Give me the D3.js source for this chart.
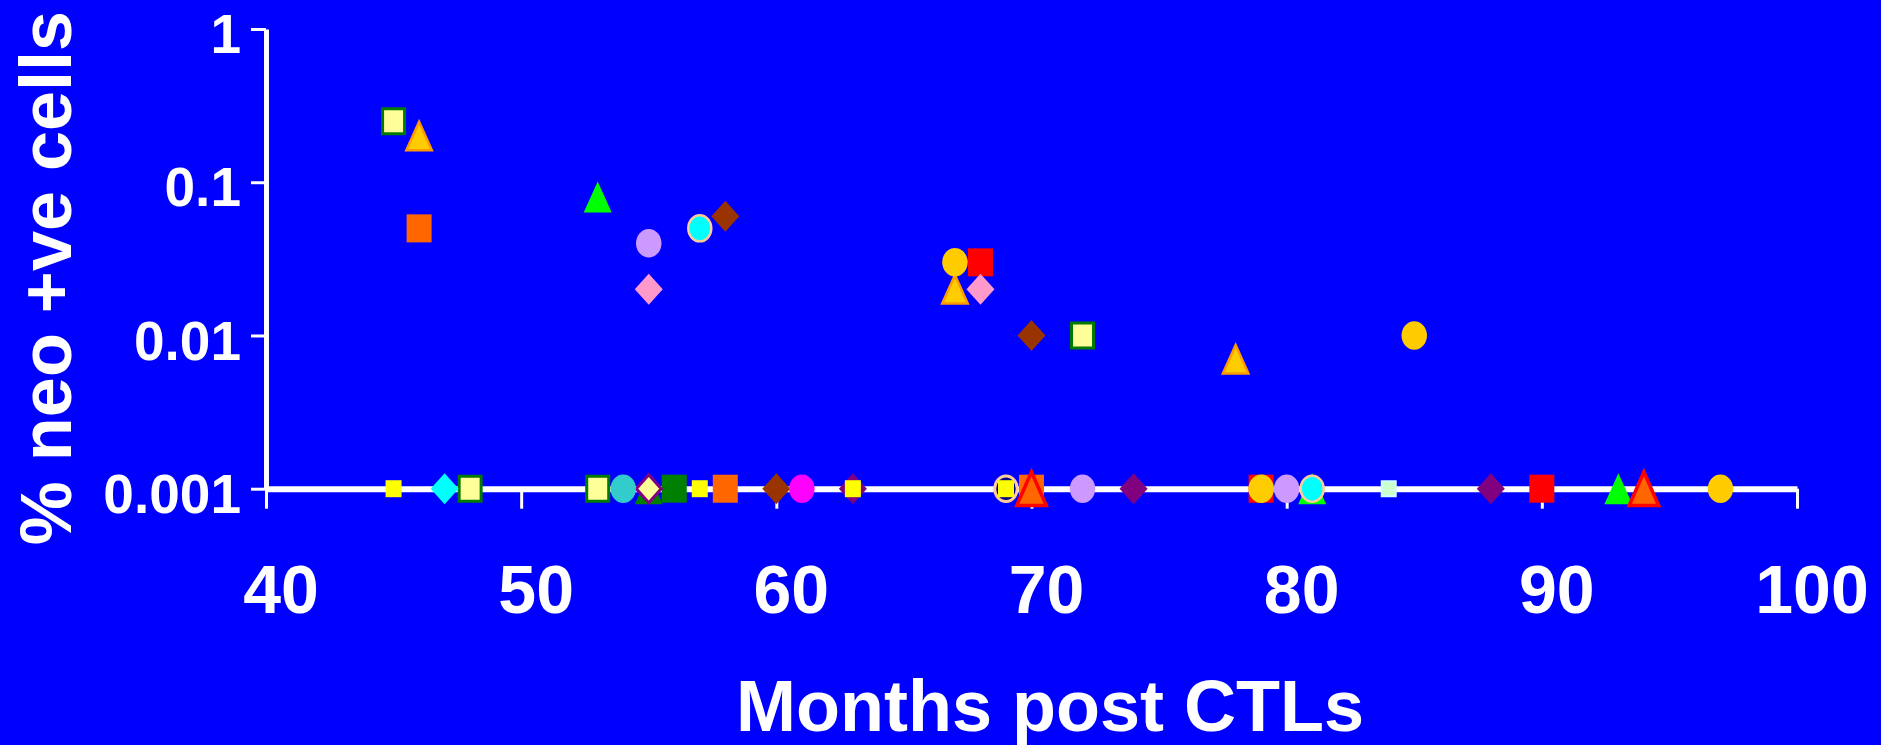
<!DOCTYPE html>
<html>
<head>
<meta charset="utf-8">
<script src="https://cdn.jsdelivr.net/npm/d3@7"></script>
<style>
  html, body { margin: 0; padding: 0; background: #0000ff; overflow: hidden; }
  svg text { font-family: "Liberation Sans", Arial, sans-serif; font-weight: bold; fill: #ffffff; }
</style>
</head>
<body>
<div id="chart"></div>
<script>
// neo +ve cells vs months after CTLs, log scale scatter

// axis values
var xTicks = [40, 50, 60, 70, 80, 90, 100];
var yTicks = [1, 0.1, 0.01, 0.001];
var yTickLabels = ["1", "0.1", "0.01", "0.001"];

// one pair of arrays per marker series (months, % neo +ve cells)
var monthsGreenTri = [53, 81, 93];
var pctGreenTri = [0.08, 0.001, 0.001];
var monthsDkGreenTri = [55];
var pctDkGreenTri = [0.001];
var monthsRedSq = [68, 79, 90];
var pctRedSq = [0.03, 0.001, 0.001];
var monthsOrangeSq = [46, 58, 70];
var pctOrangeSq = [0.05, 0.001, 0.001];
var monthsYellowSq = [45, 72, 48, 53];
var pctYellowSq = [0.25, 0.01, 0.001, 0.001];
var monthsDkGreenSq = [56];
var pctDkGreenSq = [0.001];
var monthsPaleSq = [84];
var pctPaleSq = [0.001];
var monthsBrownDia = [58, 70, 60];
var pctBrownDia = [0.06, 0.01, 0.001];
var monthsPurpleDia = [63, 74, 88];
var pctPurpleDia = [0.001, 0.001, 0.001];
var monthsCyanDia = [47];
var pctCyanDia = [0.001];
var monthsPinkDia = [55, 68];
var pctPinkDia = [0.02, 0.02];
var monthsYellowDia = [55];
var pctYellowDia = [0.001];
var monthsGoldTri = [46, 67, 78];
var pctGoldTri = [0.2, 0.02, 0.007];
var monthsRedTri = [70, 94];
var pctRedTri = [0.001, 0.001];
var monthsLilacCirc = [55, 72, 80];
var pctLilacCirc = [0.04, 0.001, 0.001];
var monthsTealCirc = [54];
var pctTealCirc = [0.001];
var monthsPinkCirc = [61];
var pctPinkCirc = [0.001];
var monthsCyanCirc = [57, 81];
var pctCyanCirc = [0.05, 0.001];
var monthsNavyCirc = [69];
var pctNavyCirc = [0.001];
var monthsGoldCirc = [67, 85, 79, 97];
var pctGoldCirc = [0.03, 0.01, 0.001, 0.001];
var monthsSmallSq = [45, 57, 63, 69];
var pctSmallSq = [0.001, 0.001, 0.001, 0.001];

var svgWidth = 1881;
var svgHeight = 745;

var svg = d3.select("#chart")
    .append("svg")
    .attr("width", svgWidth)
    .attr("height", svgHeight);

svg.append("rect")
    .attr("width", svgWidth)
    .attr("height", svgHeight)
    .attr("fill", "#0000ff");

var xScale = d3.scaleLinear()
    .domain([40, 100])
    .range([266, 1797]);

var yScale = d3.scaleLog()
    .domain([0.001, 1])
    .range([488.7, 29]);

// y axis
var leftAxis = d3.axisLeft(yScale)
    .tickValues(yTicks)
    .tickFormat((d, i) => yTickLabels[i])
    .tickSize(15)
    .tickSizeOuter(0)
    .tickPadding(10);

var yAxis = svg.append("g")
    .attr("transform", "translate(266,0)")
    .call(leftAxis);

yAxis.select(".domain").attr("stroke", "#fff").attr("stroke-width", 5);
yAxis.selectAll(".tick line").attr("stroke", "#fff").attr("stroke-width", 3);
yAxis.selectAll(".tick text")
    .attr("x", -25)
    .attr("dy", "0.43em")
    .style("font-size", "55px");

// x axis sits on the 0.001 line
var bottomAxis = d3.axisBottom(xScale)
    .tickValues(xTicks)
    .tickSize(20)
    .tickSizeOuter(0);

var xAxis = svg.append("g")
    .attr("transform", `translate(0,${yScale(0.001)})`)
    .call(bottomAxis);

xAxis.select(".domain").attr("stroke", "#fff").attr("stroke-width", 6);
xAxis.selectAll(".tick line").attr("stroke", "#fff").attr("stroke-width", 3);
xAxis.selectAll(".tick text")
    .attr("x", 14.5)
    .attr("y", 124)
    .attr("dy", 0)
    .style("font-size", "68px");

// axis titles
svg.append("text")
    .attr("x", 1050)
    .attr("y", 731)
    .attr("text-anchor", "middle")
    .style("font-size", "72px")
    .text("Months post CTLs");

svg.append("text")
    .attr("transform", "translate(70.7,278) rotate(-90)")
    .attr("text-anchor", "middle")
    .style("font-size", "72px")
    .text("% neo +ve cells");

// marker shapes, drawn inside a w x h box
function markerType(shape, w, h) {
    return {
        draw: function(p) {
            var a = w / 2, b = h / 2;
            if (shape === "square") {
                p.rect(-a, -b, w, h);
            } else if (shape === "diamond") {
                p.moveTo(0, -b); p.lineTo(a, 0); p.lineTo(0, b); p.lineTo(-a, 0); p.closePath();
            } else if (shape === "triangle") {
                p.moveTo(0, -b); p.lineTo(a, b); p.lineTo(-a, b); p.closePath();
            } else {
                var k = 0.5523;
                p.moveTo(a, 0);
                p.bezierCurveTo(a, k * b, k * a, b, 0, b);
                p.bezierCurveTo(-k * a, b, -a, k * b, -a, 0);
                p.bezierCurveTo(-a, -k * b, -k * a, -b, 0, -b);
                p.bezierCurveTo(k * a, -b, a, -k * b, a, 0);
                p.closePath();
            }
        }
    };
}

// drawing order = back to front
var series = [
    {x: monthsGreenTri, y: pctGreenTri, shape: "triangle", w: 28, h: 31, fill: "#00ff00", stroke: "none", sw: 0},
    {x: monthsDkGreenTri, y: pctDkGreenTri, shape: "triangle", w: 28, h: 31, fill: "#008000", stroke: "none", sw: 0},
    {x: monthsRedSq, y: pctRedSq, shape: "square", w: 25, h: 28, fill: "#ff0000", stroke: "none", sw: 0},
    {x: monthsOrangeSq, y: pctOrangeSq, shape: "square", w: 25, h: 28, fill: "#ff6600", stroke: "none", sw: 0},
    {x: monthsYellowSq, y: pctYellowSq, shape: "square", w: 25, h: 28, fill: "#ffff99", stroke: "#007a00", sw: 3},
    {x: monthsDkGreenSq, y: pctDkGreenSq, shape: "square", w: 25, h: 28, fill: "#008000", stroke: "none", sw: 0},
    {x: monthsPaleSq, y: pctPaleSq, shape: "square", w: 16, h: 17, fill: "#ccffcc", stroke: "#ccffff", sw: 2},
    {x: monthsBrownDia, y: pctBrownDia, shape: "diamond", w: 28, h: 31, fill: "#993300", stroke: "none", sw: 0},
    {x: monthsPurpleDia, y: pctPurpleDia, shape: "diamond", w: 28, h: 31, fill: "#800080", stroke: "none", sw: 0},
    {x: monthsCyanDia, y: pctCyanDia, shape: "diamond", w: 28, h: 31, fill: "#00ffff", stroke: "none", sw: 0},
    {x: monthsPinkDia, y: pctPinkDia, shape: "diamond", w: 28, h: 31, fill: "#ff99cc", stroke: "none", sw: 0},
    {x: monthsYellowDia, y: pctYellowDia, shape: "diamond", w: 28, h: 31, fill: "#ffff99", stroke: "#800080", sw: 3},
    {x: monthsGoldTri, y: pctGoldTri, shape: "triangle", w: 28, h: 31, fill: "#ffcc00", stroke: "#ff9900", sw: 2.5},
    {x: monthsRedTri, y: pctRedTri, shape: "triangle", w: 33, h: 37, fill: "#ff6600", stroke: "#ff0000", sw: 3.5},
    {x: monthsLilacCirc, y: pctLilacCirc, shape: "circle", w: 25.5, h: 28.5, fill: "#cc99ff", stroke: "none", sw: 0},
    {x: monthsTealCirc, y: pctTealCirc, shape: "circle", w: 25.5, h: 28.5, fill: "#33cccc", stroke: "none", sw: 0},
    {x: monthsPinkCirc, y: pctPinkCirc, shape: "circle", w: 25.5, h: 28.5, fill: "#ff00ff", stroke: "none", sw: 0},
    {x: monthsCyanCirc, y: pctCyanCirc, shape: "circle", w: 25.5, h: 28.5, fill: "#00ffff", stroke: "#ffcc99", sw: 2.5},
    {x: monthsNavyCirc, y: pctNavyCirc, shape: "circle", w: 25.5, h: 28.5, fill: "#000080", stroke: "#ffcc99", sw: 3},
    {x: monthsGoldCirc, y: pctGoldCirc, shape: "circle", w: 25.5, h: 28.5, fill: "#ffcc00", stroke: "none", sw: 0},
    {x: monthsSmallSq, y: pctSmallSq, shape: "square", w: 16, h: 17, fill: "#ffff00", stroke: "none", sw: 0}
];

var markerGroup = svg.append("g");

series.forEach(function(s) {
    var pts = s.x.map((m, i) => ({month: m, pct: s.y[i]}));
    var sym = d3.symbol().type(markerType(s.shape, s.w - s.sw, s.h - s.sw));
    markerGroup.append("g")
        .selectAll("path")
        .data(pts)
        .enter()
        .append("path")
        .attr("d", sym)
        .attr("transform", d => `translate(${xScale(d.month)},${yScale(d.pct)})`)
        .attr("fill", s.fill)
        .attr("stroke", s.stroke)
        .attr("stroke-width", s.sw);
});
</script>
</body>
</html>
